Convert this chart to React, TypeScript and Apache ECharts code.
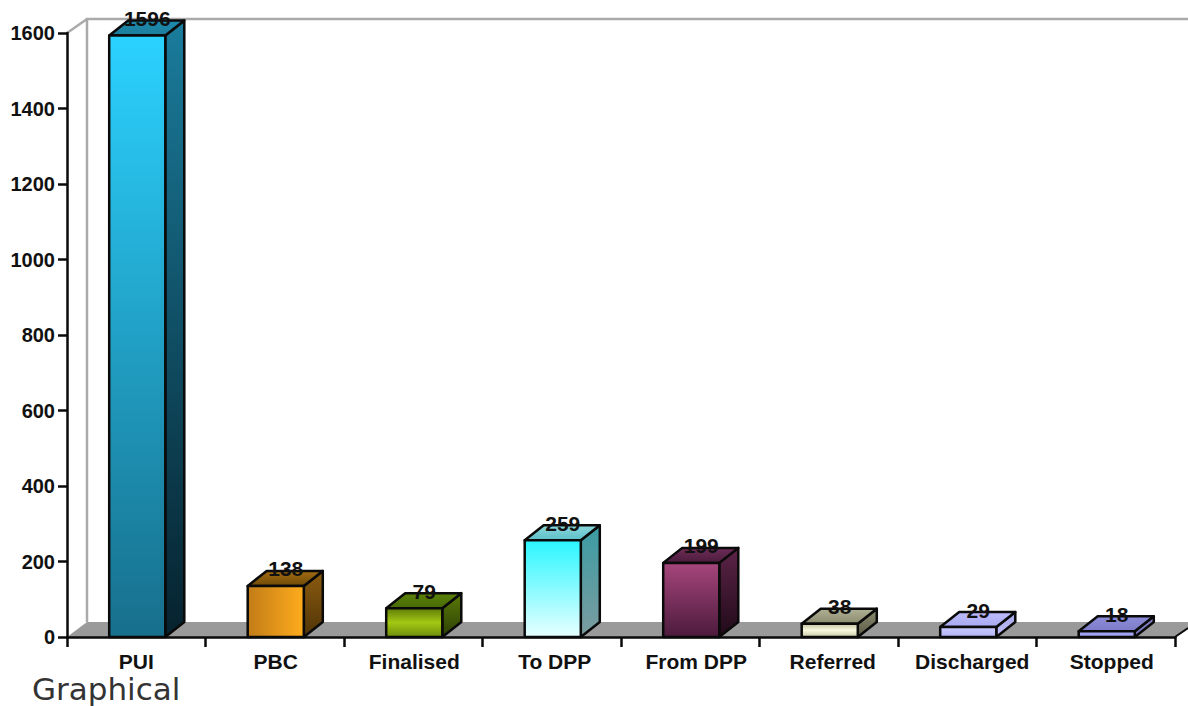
import React, { useEffect, useRef } from "react";
import * as echarts from "echarts";

const categories = ["PUI", "PBC", "Finalised", "To DPP", "From DPP", "Referred", "Discharged", "Stopped"];
const values = [1596, 138, 79, 259, 199, 38, 29, 18];
const yTicks = { min: 0, max: 1600, interval: 200 };
const labelShift = [0, 1, 1, 3, 6, 4, 5, 6];

type Grad = string[];
const frontColors: Grad[] = [
  ["#2bd2ff", "#176f8c"], ["#c27c18", "#ffac1c"], ["#5e7c08", "#a4c814", "#6c8c0a"], ["#2af6ff", "#e8ffff"],
  ["#a6467c", "#4c1a3c"], ["#c0c0a0", "#f8f8dc", "#c8c8a8"], ["#c8c8ff", "#b4b4f4"], ["#a8a8f8", "#9c9cec"],
];
const frontHorizontal = [false, true, false, false, false, false, false, false];
const sideColors: Grad[] = [
  ["#1a7c9c", "#06222e"], ["#8c5c10", "#503406"], ["#5a7a08", "#2c4004"], ["#3a9ca4", "#7c9ca0"],
  ["#5c2448", "#200a18"], ["#8c8c70", "#5c5c48"], ["#a4a4e8", "#c0c0f8"], ["#8484c8", "#7878bc"],
];
const topColors: Grad[] = [
  ["#1c8cae", "#1e7c9c"], ["#a46c12", "#704a08"], ["#5c8208", "#486a06"], ["#8cd8dc", "#5cc0c8"],
  ["#6e2c58", "#4c1c3c"], ["#b0b094", "#8c8c70"], ["#bcbcfc", "#a8a8f0"], ["#8c8cd8", "#7c7cc8"],
];

const DX = 19;
const DY = -15;
const FONT = '"Liberation Sans", Arial, sans-serif';

const grad = (g: Grad, horizontal = false) =>
  new echarts.graphic.LinearGradient(
    0, 0, horizontal ? 1 : 0, horizontal ? 0 : 1,
    g.map((color, k) => ({ offset: k / (g.length - 1), color }))
  );

const renderBar = (params: any, api: any) => {
  const i = params.dataIndex;
  const base = api.coord([api.value(0), 0]);
  const top = api.coord([api.value(0), api.value(1)]);
  const w = api.size([1, 0])[0] * 0.405;
  const x0 = base[0] - w / 2 + 1;
  const x1 = x0 + w;
  const yt = top[1] + 1;
  const yb = base[1];
  const edge = { stroke: "#0a0a0a", lineWidth: 2.5, lineJoin: "round" };
  return {
    type: "group",
    children: [
      {
        type: "polygon",
        shape: { points: [[x1, yt], [x1 + DX, yt + DY], [x1 + DX, yb + DY], [x1, yb]] },
        style: { fill: grad(sideColors[i]), ...edge },
      },
      {
        type: "polygon",
        shape: { points: [[x0, yt], [x0 + DX, yt + DY], [x1 + DX, yt + DY], [x1, yt]] },
        style: { fill: grad(topColors[i]), ...edge },
      },
      {
        type: "polygon",
        shape: { points: [[x0, yt], [x1, yt], [x1, yb], [x0, yb]] },
        style: { fill: grad(frontColors[i], frontHorizontal[i]), ...edge },
      },
      {
        type: "text",
        style: {
          x: (x0 + x1) / 2 + 10,
          y: yt - 17,
          text: String(api.value(1)),
          font: `bold 21px ${FONT}`,
          fill: "#111",
          align: "center",
          verticalAlign: "middle",
        },
      },
    ],
  };
};

const richLabels: Record<string, any> = {};
labelShift.forEach((s, i) => {
  richLabels[`c${i}`] = {
    color: "#111",
    fontFamily: FONT,
    fontWeight: "bold",
    fontSize: 21,
    padding: [0, 0, 0, s * 2],
  };
});

export default function App() {
  const ref = useRef<HTMLDivElement>(null);
  useEffect(() => {
    document.body.style.margin = "0";
    document.body.style.background = "#fff";
    const chart = echarts.init(ref.current!, null, { renderer: "svg" });
    chart.setOption({
      animation: false,
      backgroundColor: "#ffffff",
      grid: { left: 67, top: 33, width: 1108, height: 604, containLabel: false },
      xAxis: {
        type: "category",
        data: categories,
        axisLine: { onZero: false, lineStyle: { color: "#0a0a0a", width: 2.5 } },
        axisTick: { show: true, length: 10, lineStyle: { color: "#0a0a0a", width: 2.5 } },
        axisLabel: {
          margin: 14,
          interval: 0,
          formatter: (v: string) => `{c${categories.indexOf(v)}|${v}}`,
          rich: richLabels,
        },
        splitLine: { show: false },
      },
      yAxis: {
        type: "value",
        min: yTicks.min,
        max: yTicks.max,
        interval: yTicks.interval,
        axisLine: { show: true, lineStyle: { color: "#0a0a0a", width: 2.5 } },
        axisTick: { show: true, length: 9, lineStyle: { color: "#0a0a0a", width: 2.5 } },
        axisLabel: {
          color: "#111",
          fontFamily: FONT,
          fontWeight: "bold",
          fontSize: 20,
          margin: 12,
          padding: [0, 0, 3, 0],
          formatter: (v: number) => String(v),
        },
        splitLine: { show: false },
      },
      graphic: [
        {
          type: "polygon",
          z: -1,
          shape: { points: [[67, 637], [87, 622], [1188, 622], [1188, 628], [1175, 637]] },
          style: { fill: "#9a9a9a" },
        },
        {
          type: "polyline",
          z: -1,
          shape: { points: [[87, 622], [87, 19], [1188, 19]] },
          style: { stroke: "#aaaaaa", lineWidth: 2.5, fill: "none" },
        },
        {
          type: "line",
          z: -1,
          shape: { x1: 67, y1: 33, x2: 87, y2: 19 },
          style: { stroke: "#aaaaaa", lineWidth: 2.5 },
        },
        {
          type: "line",
          z: 1,
          shape: { x1: 1175, y1: 637, x2: 1188, y2: 628 },
          style: { stroke: "#0a0a0a", lineWidth: 2 },
        },
        {
          type: "text",
          z: 5,
          x: 32,
          y: 689,
          style: {
            text: "Graphical",
            font: '31px "DejaVu Sans", Verdana, sans-serif',
            fill: "#333",
            verticalAlign: "middle",
          },
        },
      ],
      series: [
        {
          type: "custom",
          coordinateSystem: "cartesian2d",
          clip: false,
          encode: { x: 0, y: 1 },
          data: values.map((v, i) => [i, v]),
          renderItem: renderBar,
        },
      ],
    });
    return () => chart.dispose();
  }, []);
  return <div ref={ref} style={{ position: "absolute", left: 0, top: 0, width: 1188, height: 706 }} />;
}
